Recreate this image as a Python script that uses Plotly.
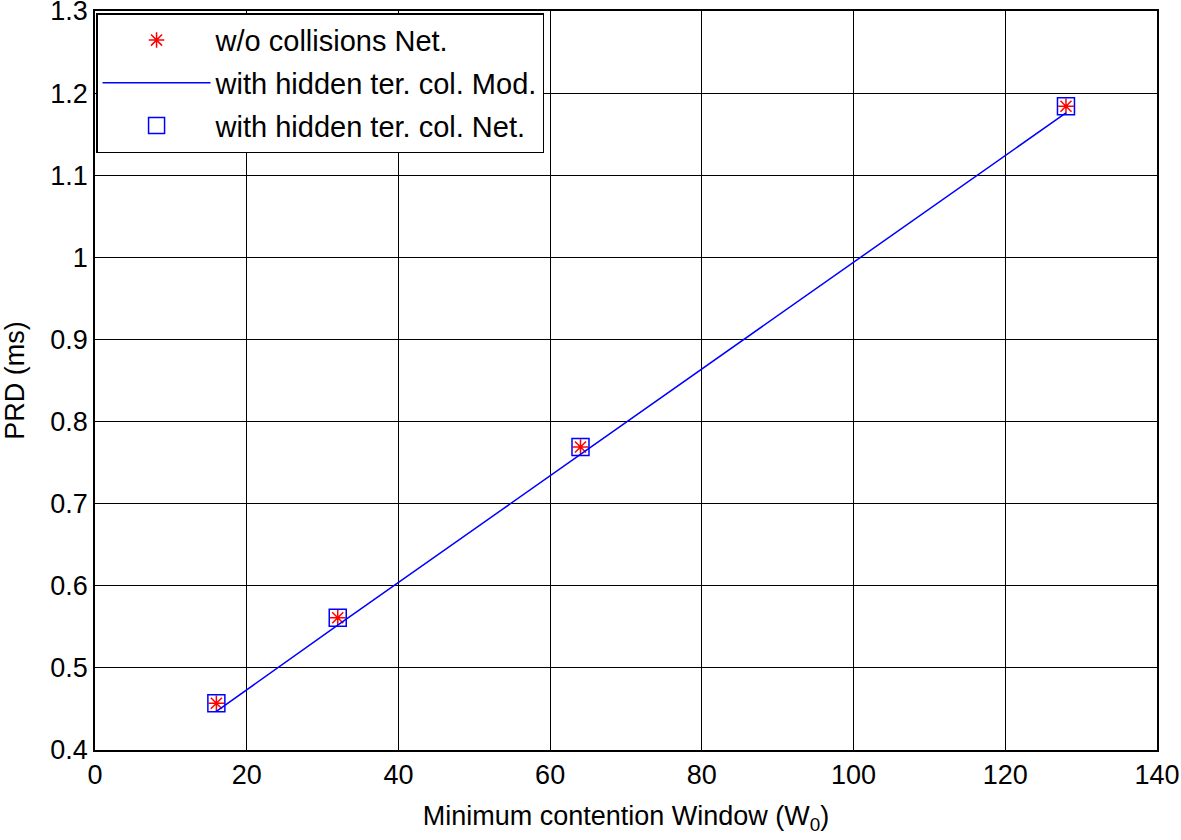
import plotly.graph_objects as go

w0 = [16, 32, 64, 128]
prd_no_coll_net = [0.457, 0.561, 0.769, 1.184]
prd_hidden_mod = [0.447, 0.552, 0.760, 1.176]
prd_hidden_net = [0.457, 0.561, 0.769, 1.184]

x_ticks = [0, 20, 40, 60, 80, 100, 120, 140]
y_ticks = [0.4, 0.5, 0.6, 0.7, 0.8, 0.9, 1.0, 1.1, 1.2, 1.3]
y_tick_text = ["0.4", "0.5", "0.6", "0.7", "0.8", "0.9", "1", "1.1", "1.2", "1.3"]

FONT = "Liberation Sans, Arial, Helvetica, sans-serif"

fig = go.Figure()
fig.add_trace(go.Scatter(
    x=w0, y=prd_no_coll_net, mode="markers", name="w/o collisions Net.", legendgroup="a",
    marker=dict(symbol="asterisk-open", size=13, color="red", line=dict(color="red", width=1.5)),
))
fig.add_trace(go.Scatter(
    x=w0, y=prd_hidden_mod, mode="lines", name="with hidden ter. col. Mod.", legendgroup="b",
    line=dict(color="blue", width=1.5),
))
fig.add_trace(go.Scatter(
    x=w0, y=prd_hidden_net, mode="markers", name="with hidden ter. col. Net.", legendgroup="c",
    marker=dict(symbol="square-open", size=17, color="blue", line=dict(color="blue", width=1.5)),
))

axis_common = dict(
    showgrid=True, gridcolor="black", gridwidth=1,
    showline=True, linecolor="black", linewidth=1.5, mirror="ticks",
    ticks="inside", ticklen=7, tickcolor="black",
    zeroline=False, automargin=False, ticklabeloverflow="allow",
    tickfont=dict(family=FONT, size=27, color="black"),
)

fig.update_xaxes(
    range=[0, 140], tickvals=x_ticks, ticktext=[str(v) for v in x_ticks],
    title=dict(text="Minimum contention Window (W<sub>0</sub>)", font=dict(family=FONT, size=27, color="black"), standoff=17),
    **axis_common,
)
fig.update_yaxes(
    range=[0.4, 1.3], tickvals=y_ticks, ticktext=y_tick_text,
    title=dict(text="PRD (ms)", font=dict(family=FONT, size=27, color="black"), standoff=20),
    **axis_common,
)

fig.update_layout(
    width=1181, height=840,
    margin=dict(l=95, r=24, t=11, b=90),
    paper_bgcolor="white", plot_bgcolor="white",
    showlegend=True,
    legend=dict(
        x=0.001, y=0.997, xanchor="left", yanchor="top",
        bgcolor="white", bordercolor="black", borderwidth=1.5,
        font=dict(family=FONT, size=29, color="black"),
        itemwidth=108, tracegroupgap=2,
    ),
)

fig.write_html(
    "out.html",
    config={"displayModeBar": False},
    post_script="document.body.style.margin='0';document.body.style.overflow='hidden';",
)
